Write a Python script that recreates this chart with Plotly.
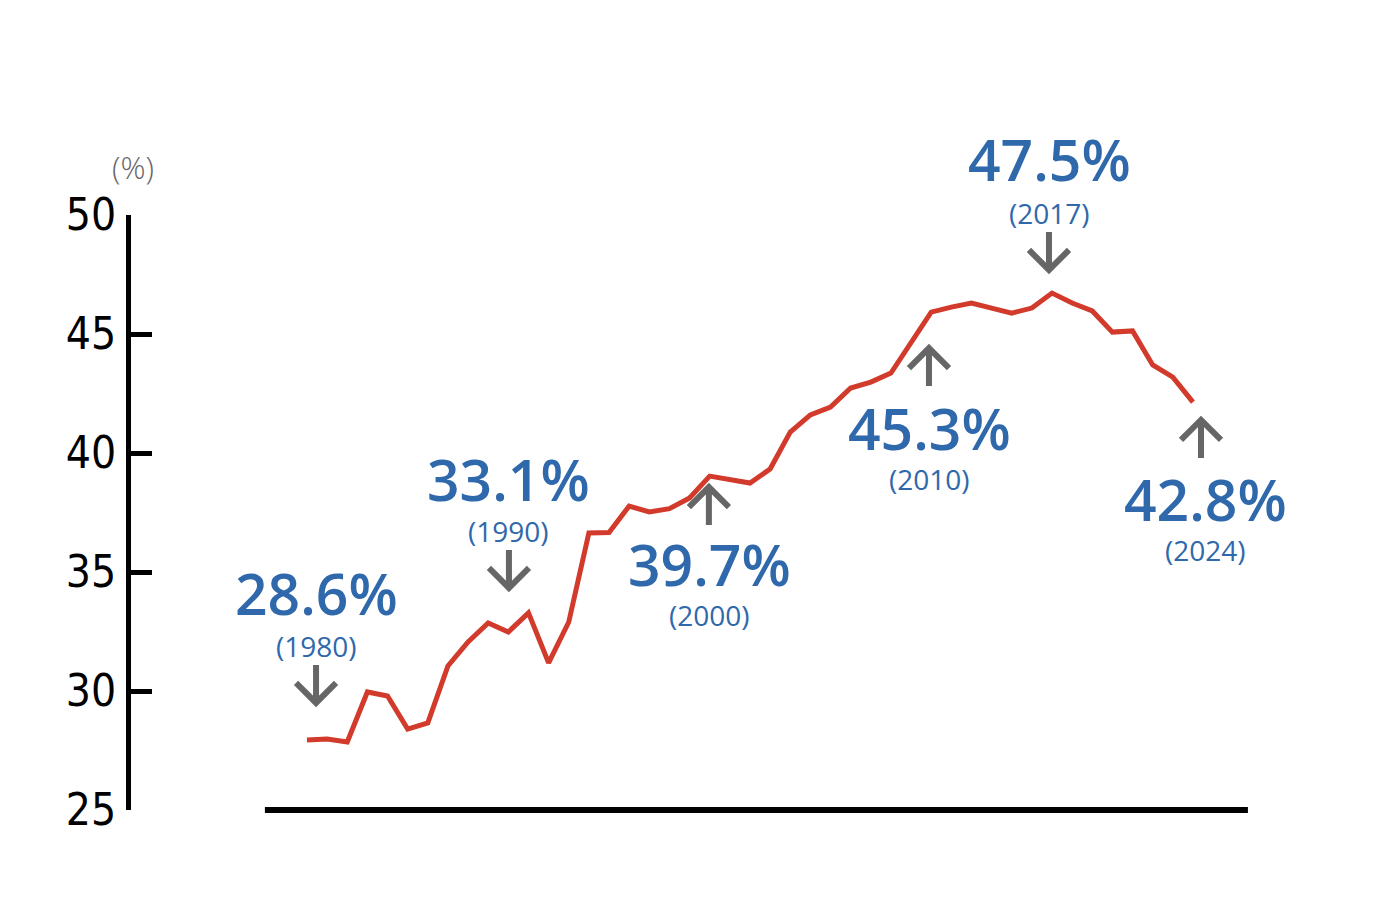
import plotly.graph_objects as go

# ---- data ----
years = list(range(1980, 2025))
share = [27.94, 27.98, 27.86, 29.96, 29.79, 28.40, 28.66, 31.05, 32.06, 32.86,
         32.48, 33.28, 31.18, 32.90, 36.64, 36.66, 37.77, 37.52, 37.66, 38.11,
         39.03, 38.87, 38.74, 39.33, 40.88, 41.60, 41.93, 42.73, 42.98, 43.36,
         44.62, 45.92, 46.13, 46.30, 46.09, 45.88, 46.09, 46.72, 46.30, 45.97,
         45.08, 45.13, 43.70, 43.19, 42.14]
y_ticks = [25, 30, 35, 40, 45, 50]

callout_values = ["28.6%", "33.1%", "39.7%", "45.3%", "47.5%", "42.8%"]
callout_years = ["(1980)", "(1990)", "(2000)", "(2010)", "(2017)", "(2024)"]

# ---- layout helpers (positions, not data) ----
X_RANGE = [1971.26, 2027.33]
Y_RANGE = [25, 50]
call_x = [1980.45, 1990.0, 2000.0, 2010.9, 2016.9, 2024.6]
arrow_x = [1980.45, 1990.03, 1999.96, 2010.89, 2016.85, 2024.40]
val_y = [34.12, 38.92, 35.34, 41.06, 52.36, 38.07]
yr_y = [31.89, 36.72, 33.19, 38.91, 50.08, 35.92]
tip_y = [29.50, 34.33, 38.57, 44.41, 47.69, 41.39]
direction = ["down", "down", "up", "up", "down", "up"]


def py(v):
    return (v - Y_RANGE[0]) / (Y_RANGE[1] - Y_RANGE[0])


def px(v):
    return (v - X_RANGE[0]) / (X_RANGE[1] - X_RANGE[0])


BLUE = "#2f68ab"
RED = "#d23a2b"
GRAY = "#666666"

fig = go.Figure()
fig.add_trace(go.Scatter(x=years, y=share, mode="lines",
                         line=dict(color=RED, width=5), hoverinfo="skip",
                         showlegend=False))

annotations = []
shapes = []
for i in range(len(callout_values)):
    annotations.append(dict(x=call_x[i], y=py(val_y[i]), xref="x", yref="paper",
                            text=callout_values[i], showarrow=False,
                            font=dict(family="Open Sans", size=57, color=BLUE, weight=600),
                            xanchor="center", yanchor="middle"))
    annotations.append(dict(x=call_x[i], y=py(yr_y[i]), xref="x", yref="paper",
                            text=callout_years[i], showarrow=False,
                            font=dict(family="Open Sans", size=28, color=BLUE),
                            xanchor="center", yanchor="middle"))
    s = 1 if direction[i] == "down" else -1
    L, W, H = 38, 20, 20
    path = (f"M 0,{s*L} L 0,0 M {-W},{s*H} L 0,0 L {W},{s*H}")
    shapes.append(dict(type="path", xref="x", yref="y",
                       xsizemode="pixel", ysizemode="pixel",
                       xanchor=arrow_x[i], yanchor=tip_y[i],
                       path=path, line=dict(color=GRAY, width=6)))

# bottom baseline
shapes.append(dict(type="line", xref="paper", yref="paper", x0=px(1977.91), x1=px(2026.73),
                   y0=0, y1=0, line=dict(color="black", width=6)))

annotations.append(dict(x=0.002, y=py(52.02), xref="paper", yref="paper", text="(%)",
                        showarrow=False,
                        font=dict(family="Open Sans", size=31, color="#666666", weight=300),
                        xanchor="center", yanchor="middle"))

fig.update_layout(
    width=1400, height=900,
    margin=dict(l=131, r=140, t=215, b=90),
    paper_bgcolor="white", plot_bgcolor="white",
    xaxis=dict(range=X_RANGE, visible=False),
    yaxis=dict(range=Y_RANGE, tickvals=y_ticks, ticktext=[str(v) for v in y_ticks],
               showline=True, linecolor="black", linewidth=5,
               ticks="inside", ticklen=21, tickwidth=5, tickcolor="black",
               showgrid=False, zeroline=False,
               tickfont=dict(family="DejaVu Sans Condensed, Roboto, Liberation Sans",
                             size=44, color="black", weight=300),
               ticklabelstandoff=1),
    annotations=annotations,
    shapes=shapes,
)
fig.write_html("out.html")
